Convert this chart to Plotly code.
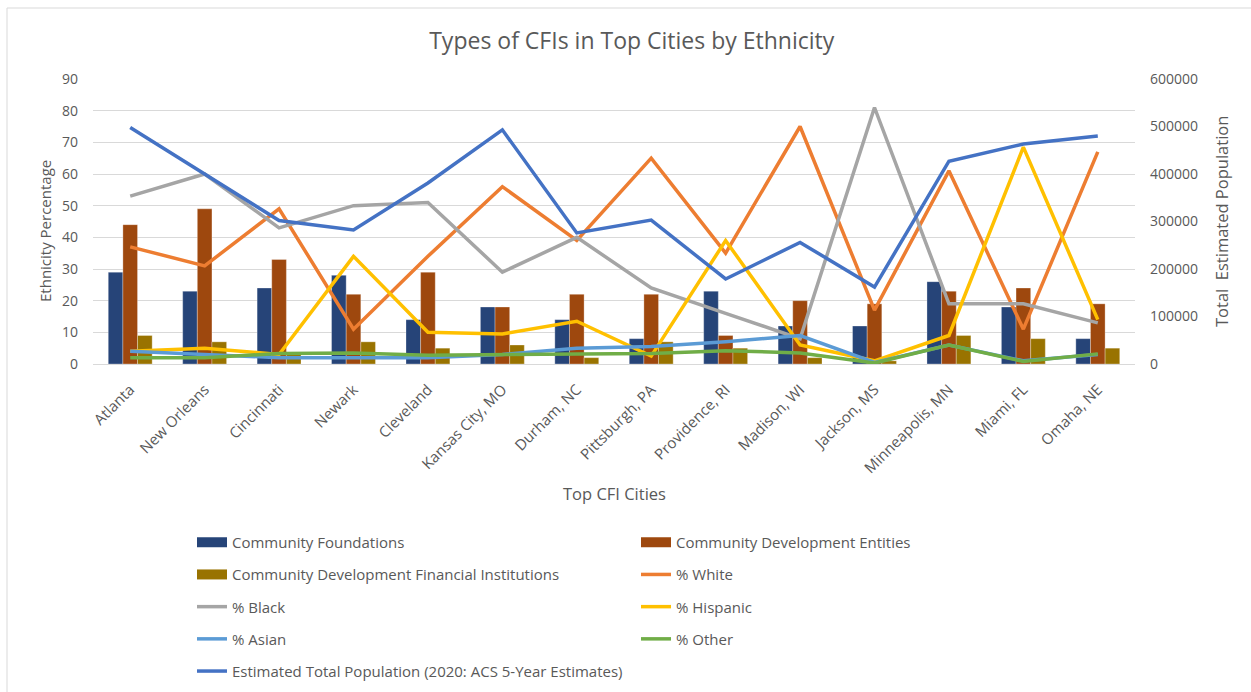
import plotly.graph_objects as go

cities = ["Atlanta", "New Orleans", "Cincinnati", "Newark", "Cleveland", "Kansas City, MO",
          "Durham, NC", "Pittsburgh, PA", "Providence, RI", "Madison, WI", "Jackson, MS",
          "Minneapolis, MN", "Miami, FL", "Omaha, NE"]

community_foundations = [29, 23, 24, 28, 14, 18, 14, 8, 23, 12, 12, 26, 18, 8]
community_dev_entities = [44, 49, 33, 22, 29, 18, 22, 22, 9, 20, 19, 23, 24, 19]
cdfi = [9, 7, 3, 7, 5, 6, 2, 7, 5, 2, 1, 9, 8, 5]

pct_white = [37, 31, 49, 11, 34, 56, 39, 65, 35, 75, 17, 61, 11, 67]
pct_black = [53, 60, 43, 50, 51, 29, 40, 24, 16, 8, 81, 19, 19, 13]
pct_hispanic = [4, 5, 3, 34, 10, 9.5, 13.5, 2.5, 39, 6, 1, 9, 68.5, 14]
pct_asian = [4, 3, 2, 2, 2, 3, 5, 5.5, 7, 9, 0.5, 6, 1, 3]
pct_other = [2, 2, 3.3, 3.5, 2.8, 3, 3, 3.3, 4.2, 3.5, 0.3, 6, 0.8, 3.2]

total_population = [498000, 400000, 302000, 282000, 381000, 493000, 276000, 303000,
                    179000, 256000, 162000, 427000, 463000, 480000]

FONT = "Open Sans"
TXT = "#595959"
GRID = "#D9D9D9"
W, H = 1251, 692

fig = go.Figure()

bar_series = [
    ("Community Foundations", community_foundations, "#264478"),
    ("Community Development Entities", community_dev_entities, "#9E480E"),
    ("Community Development Financial Institutions", cdfi, "#997300"),
]
for name, vals, color in bar_series:
    fig.add_trace(go.Bar(x=cities, y=vals, name=name, marker=dict(color=color,
                         line=dict(color="rgba(255,255,255,0.5)", width=0.6)),
                         showlegend=False, yaxis="y"))

line_series = [
    ("% White", pct_white, "#ED7D31"),
    ("% Black", pct_black, "#A5A5A5"),
    ("% Hispanic", pct_hispanic, "#FFC000"),
    ("% Asian", pct_asian, "#5B9BD5"),
    ("% Other", pct_other, "#70AD47"),
]
for name, vals, color in line_series:
    fig.add_trace(go.Scatter(x=cities, y=vals, name=name, mode="lines",
                             line=dict(color=color, width=3.5), showlegend=False, yaxis="y"))

fig.add_trace(go.Scatter(x=cities, y=total_population,
                         name="Estimated Total Population (2020: ACS 5-Year Estimates)",
                         mode="lines", line=dict(color="#4472C4", width=3.5),
                         showlegend=False, yaxis="y2"))

# legend entries (ordered like the reference, in two columns)
legend_entries = [
    ("Community Foundations", "#264478", 11, "legend", 1),
    ("Community Development Financial Institutions", "#997300", 11, "legend", 2),
    ("% Black", "#A5A5A5", 3.5, "legend", 3),
    ("% Asian", "#5B9BD5", 3.5, "legend", 4),
    ("Estimated Total Population (2020: ACS 5-Year Estimates)", "#4472C4", 3.5, "legend", 5),
    ("Community Development Entities", "#9E480E", 11, "legend2", 1),
    ("% White", "#ED7D31", 3.5, "legend2", 2),
    ("% Hispanic", "#FFC000", 3.5, "legend2", 3),
    ("% Other", "#70AD47", 3.5, "legend2", 4),
]
for name, color, w, lg, rank in legend_entries:
    fig.add_trace(go.Scatter(x=[None], y=[None], name=name, mode="lines",
                             line=dict(color=color, width=w), legend=lg,
                             legendgroup=name, legendrank=rank, showlegend=True))

L, R, T, B = 93, 116, 79, 328
plot_w = W - L - R
plot_h = H - T - B

def px_x(px):
    return (px - L) / plot_w

def px_y(py):
    return 1 - (py - T) / plot_h

legend_common = dict(orientation="v", xanchor="left", yanchor="top",
                     xref="container", yref="container",
                     font=dict(family=FONT, size=15, color=TXT),
                     bgcolor="rgba(0,0,0,0)", tracegroupgap=9.7, traceorder="grouped")

axis_titles = [
    dict(text="Ethnicity Percentage", x=45 / W, y=1 - 231 / H, textangle=-90, size=15),
    dict(text="Total  Estimated Population", x=1222 / W, y=1 - 222 / H, textangle=-90, size=16.5),
    dict(text="Top CFI Cities", x=614 / W, y=1 - 493 / H, textangle=0, size=16.5),
]
annotations = [dict(text=a["text"], x=a["x"], y=a["y"], xref="paper", yref="paper",
                    xanchor="center", yanchor="middle", textangle=a["textangle"],
                    showarrow=False, font=dict(family=FONT, size=a["size"], color=TXT))
               for a in axis_titles]
for a in annotations:
    a["xref"] = "container" if False else "paper"
# convert container fractions to paper coordinates
for a, src in zip(annotations, axis_titles):
    a["x"] = px_x(src["x"] * W)
    a["y"] = px_y((1 - src["y"]) * H)

fig.update_layout(
    width=W, height=H,
    margin=dict(l=L, r=R, t=T, b=B, autoexpand=False),
    paper_bgcolor="white", plot_bgcolor="white",
    font=dict(family=FONT, color=TXT, size=14),
    title=dict(text="Types of CFIs in Top Cities by Ethnicity", x=0.505, xref="container",
               y=1 - 41 / H, yref="container", xanchor="center", yanchor="middle",
               font=dict(family=FONT, size=23, color=TXT)),
    barmode="group", bargap=0.41, bargroupgap=0,
    xaxis=dict(type="category", tickangle=-45, tickfont=dict(family=FONT, size=15, color=TXT),
               showline=True, linecolor=GRID, linewidth=1, showgrid=False, ticks="",
               ticklabelstandoff=10),
    yaxis=dict(range=[0, 90], dtick=10, showgrid=True, gridcolor=GRID, gridwidth=1,
               zeroline=False, ticks="", ticklabelstandoff=14,
               tickfont=dict(family=FONT, size=14, color=TXT)),
    yaxis2=dict(range=[0, 600000], dtick=100000, overlaying="y", side="right",
                showgrid=False, zeroline=False, ticks="", ticklabelstandoff=14,
                tickformat="d", tickfont=dict(family=FONT, size=14, color=TXT)),
    legend=dict(x=192 / W, y=1 - 526 / H, **legend_common),
    legend2=dict(x=636 / W, y=1 - 526 / H, **legend_common),
    annotations=annotations,
    shapes=[dict(type="rect", xref="paper", yref="paper",
                 x0=px_x(7), x1=px_x(1262), y0=px_y(704), y1=px_y(8),
                 line=dict(color=GRID, width=1), fillcolor="rgba(0,0,0,0)", layer="below")],
)

fig.write_html("out.html")
